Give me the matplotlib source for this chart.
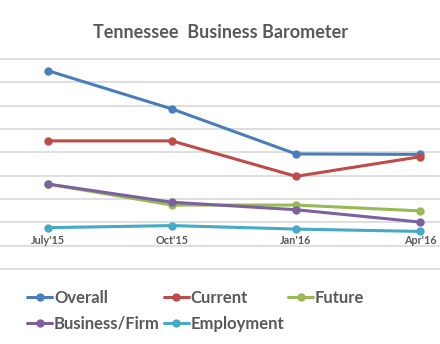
import matplotlib
matplotlib.use('Agg')
import matplotlib.pyplot as plt

# Business barometer index, quarterly readings
quarters = ["July'15", "Oct'15", "Jan'16", "Apr'16"]
overall = [85.0, 68.6, 49.3, 49.1]
current = [54.9, 54.9, 39.7, 48.1]
future = [36.4, 27.4, 27.4, 24.9]
business_firm = [36.4, 28.6, 25.4, 20.1]
employment = [17.7, 18.6, 17.1, 16.1]

series = [
    ('Overall', overall, '#4A7EBB'),
    ('Current', current, '#BE4B48'),
    ('Future', future, '#98B954'),
    ('Business/Firm', business_firm, '#7D60A0'),
    ('Employment', employment, '#46AAC5'),
]

plt.rcParams['font.family'] = ['Lato', 'DejaVu Sans']
text_color = '#595959'

fig = plt.figure(figsize=(4.4, 3.44), dpi=100)
ax = fig.add_axes([0, 0.2113, 1, 0.624])

x = list(range(len(quarters)))
handles = {}
for name, values, color in series:
    line, = ax.plot(x, values, color=color, linewidth=2.2, marker='o',
                    markersize=5, label=name, solid_capstyle='round')
    handles[name] = line

ax.set_xlim(-0.385, 3.161)
ax.set_ylim(-1, 91)
ax.set_yticks(range(0, 91, 10))
ax.yaxis.grid(True, color='#D9D9D9', linewidth=1.2)
ax.set_axisbelow(True)
ax.set_xticks([])
ax.tick_params(left=False, labelleft=False)
for s in ax.spines.values():
    s.set_visible(False)

# category labels sit inside the plot area
for i, q in enumerate(quarters):
    ax.text(i, 12.3, q, ha='center', va='center', fontsize=7.8,
            fontweight='bold', color=text_color)

fig.text(0.5, 0.905, 'Tennessee  Business Barometer', ha='center', va='center',
         fontsize=13, fontweight='bold', color=text_color)

order = ['Overall', 'Business/Firm', 'Current', 'Employment', 'Future']
leg = fig.legend([handles[n] for n in order], order, ncol=3,
                 loc='upper left', bbox_to_anchor=(0.062, 0.157),
                 frameon=False, fontsize=12, handlelength=1.5,
                 handletextpad=0.1, columnspacing=0.25, labelspacing=0.58,
                 borderaxespad=0, borderpad=0)
for t in leg.get_texts():
    t.set_color(text_color)
    t.set_fontweight('bold')

fig.savefig('out.png', dpi=100)
